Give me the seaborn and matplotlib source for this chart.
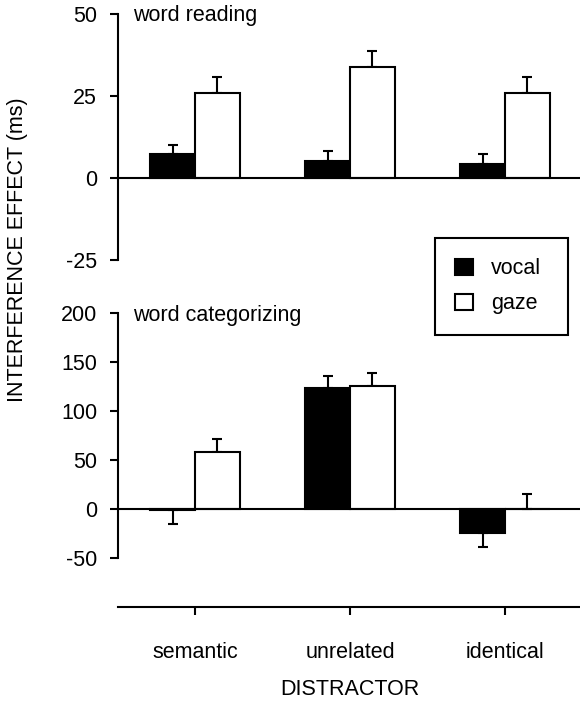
import numpy as np
import pandas as pd
import matplotlib
matplotlib.use('Agg')
import matplotlib.pyplot as plt
from matplotlib.patches import Patch
import seaborn as sns

sns.set_style('ticks')
plt.rcParams['font.family'] = ['Liberation Sans', 'DejaVu Sans']
plt.rcParams['font.size'] = 15.5
plt.rcParams['axes.unicode_minus'] = False
for k in ['text.color', 'axes.labelcolor', 'xtick.color', 'ytick.color',
          'axes.edgecolor']:
    plt.rcParams[k] = 'black'

distractors = ['semantic', 'unrelated', 'identical']
responses = ['vocal', 'gaze']

# word reading
read_vocal = [7.3, 5.2, 4.3]
read_gaze = [25.9, 33.8, 25.9]
read_vocal_err = [2.8, 3.0, 3.0]
read_gaze_err = [4.9, 4.9, 4.9]

# word categorizing
cat_vocal = [-1, 123, -24.5]
cat_gaze = [58, 125, 0]
cat_vocal_err = [14, 12.5, 14]
cat_gaze_err = [13.5, 14, 15]


def make_df(vocal, gaze):
    return pd.DataFrame({
        'distractor': distractors * 2,
        'response': ['vocal'] * 3 + ['gaze'] * 3,
        'effect': list(vocal) + list(gaze),
    })


def draw(ax, df, errs):
    sns.barplot(data=df, x='distractor', y='effect', hue='response',
                hue_order=responses, order=distractors,
                palette={'vocal': 'black', 'gaze': 'white'},
                edgecolor='black', linewidth=1.5, width=0.58,
                errorbar=None, legend=False, ax=ax, zorder=2)
    for cont, err in zip(ax.containers, errs):
        for bar, e in zip(cont, err):
            x = bar.get_x() + bar.get_width() / 2
            y = bar.get_y() + bar.get_height()
            if bar.get_height() < 0:
                yerr = [[e], [0]]
            else:
                yerr = [[0], [e]]
            ax.errorbar(x, y, yerr=yerr, color='black', lw=1.5,
                        capsize=3.6, capthick=1.5, zorder=1)
    ax.axhline(0, color='black', lw=1.5, zorder=3)
    ax.set_xlim(-0.497, 2.484)
    ax.set_xlabel('')
    ax.set_ylabel('')
    ax.spines['top'].set_visible(False)
    ax.spines['right'].set_visible(False)
    for s in ax.spines.values():
        s.set_linewidth(1.5)
    ax.tick_params(axis='y', direction='out', length=6, width=1.5, pad=9,
                   labelsize=15.5)


fig = plt.figure(figsize=(5.8, 7.06), dpi=100)
ax1 = fig.add_axes([0.2034, 0.6317, 0.7966, 0.3484])
ax2 = fig.add_axes([0.2034, 0.1402, 0.7966, 0.4165])

draw(ax1, make_df(read_vocal, read_gaze), [read_vocal_err, read_gaze_err])
ax1.set_ylim(-25, 50)
ax1.set_yticks([-25, 0, 25, 50])
ax1.spines['bottom'].set_visible(False)
ax1.set_xticks([])

draw(ax2, make_df(cat_vocal, cat_gaze), [cat_vocal_err, cat_gaze_err])
ax2.set_ylim(-100, 200)
ax2.set_yticks([-50, 0, 50, 100, 150, 200])
ax2.spines['left'].set_bounds(-50, 200)
ax2.tick_params(axis='x', direction='out', length=6, width=1.5, pad=19,
                labelsize=15.5)

fig.text(133 / 580, 0.993, 'word reading', ha='left', va='top', fontsize=15.5)
fig.text(133 / 580, 0.568, 'word categorizing', ha='left', va='top', fontsize=15.5)

fig.text(0.031, 0.646, 'INTERFERENCE EFFECT (ms)', rotation=90,
         ha='center', va='center', fontsize=15.5)
fig.text(0.603, 0.0227, 'DISTRACTOR', ha='center', va='center', fontsize=15.5)

handles = [Patch(facecolor='black', edgecolor='black', lw=1.5),
           Patch(facecolor='white', edgecolor='black', lw=1.5)]
leg = fig.legend(handles, responses, loc='upper left',
                 bbox_to_anchor=(435 / 580, 1 - 332 / 706, 133 / 580, 94 / 706),
                 mode='expand',
                 frameon=True, fancybox=False, edgecolor='black',
                 framealpha=1, handlelength=0.8, handleheight=0.8,
                 handletextpad=0.85, labelspacing=0.65, borderpad=0.95,
                 borderaxespad=0, fontsize=15.5)
leg.get_frame().set_linewidth(1.5)

fig.savefig('out.png', dpi=100)
